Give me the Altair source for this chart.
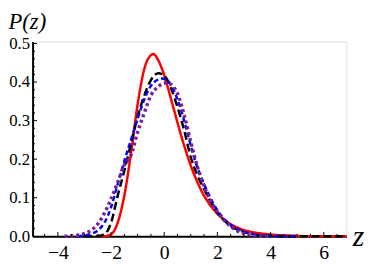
import altair as alt
import pandas as pd

# ---- data ----
red_z = [-2.5, -2.2, -2.0, -1.9, -1.75, -1.5, -1.25, -1.0, -0.75, -0.5, -0.4, -0.25, 0.0, 0.25, 0.5, 0.75,
         1.0, 1.25, 1.5, 2.0, 2.5, 3.0, 3.5, 4.0, 5.0, 6.0, 6.85]
red_p = [0.0, 0.0005, 0.005, 0.012, 0.035, 0.105, 0.215, 0.342, 0.434, 0.470, 0.473, 0.460, 0.418, 0.358,
         0.295, 0.235, 0.183, 0.140, 0.105, 0.058, 0.031, 0.016, 0.0085, 0.0045, 0.0012, 0.0003, 0.0001]

black_z = [-3.0, -2.5, -2.25, -2.0, -1.75, -1.5, -1.25, -1.0, -0.75, -0.5, -0.22, 0.0, 0.25, 0.5, 0.75,
           1.0, 1.25, 1.5, 1.75, 2.0, 2.5, 3.0, 3.5, 4.0, 5.0, 6.85]
black_p = [0.0, 0.001, 0.005, 0.035, 0.105, 0.17, 0.24, 0.31, 0.365, 0.405, 0.423, 0.417, 0.385, 0.335,
           0.275, 0.205, 0.158, 0.122, 0.09, 0.062, 0.027, 0.011, 0.004, 0.0015, 0.0, 0.0]

blue_z = [-3.25, -3.0, -2.75, -2.5, -2.25, -2.0, -1.75, -1.5, -1.25, -1.0, -0.75, -0.5, -0.25, -0.1, 0.1,
          0.35, 0.6, 0.85, 1.1, 1.35, 1.6, 1.85, 2.1, 2.5, 3.0, 3.5, 4.0, 5.0]
blue_p = [0.0, 0.002, 0.006, 0.015, 0.035, 0.075, 0.135, 0.195, 0.25, 0.305, 0.355, 0.39, 0.406, 0.409,
          0.405, 0.38, 0.335, 0.275, 0.21, 0.16, 0.12, 0.085, 0.058, 0.03, 0.012, 0.004, 0.001, 0.0]

purple_z = [-3.75, -3.5, -3.25, -3.0, -2.75, -2.5, -2.25, -2.0, -1.75, -1.5, -1.25, -1.0, -0.75, -0.5,
            -0.25, 0.0, 0.1, 0.25, 0.5, 0.75, 1.0, 1.25, 1.5, 1.75, 2.0, 2.25, 2.5, 2.75, 3.0, 3.5, 4.0]
purple_p = [0.0, 0.001, 0.003, 0.007, 0.016, 0.032, 0.06, 0.097, 0.14, 0.185, 0.21, 0.27, 0.32, 0.365,
            0.387, 0.397, 0.398, 0.394, 0.37, 0.315, 0.245, 0.18, 0.13, 0.092, 0.064, 0.042, 0.026, 0.014,
            0.007, 0.0015, 0.0]

x_major = [-4, -2, 0, 2, 4, 6]
x_minor = [-4.5, -3.5, -3, -2.5, -1.5, -1, -0.5, 0.5, 1, 1.5, 2.5, 3, 3.5, 4.5, 5, 5.5, 6.5]
y_major = [0.1, 0.2, 0.3, 0.4, 0.5]
y_minor = [0.02, 0.04, 0.06, 0.08, 0.12, 0.14, 0.16, 0.18, 0.22, 0.24, 0.26, 0.28,
           0.32, 0.34, 0.36, 0.38, 0.42, 0.44, 0.46, 0.48]
x_labels = [-4, -2, 0, 2, 4, 6]
y_labels = [0.0, 0.1, 0.2, 0.3, 0.4, 0.5]

W, H = 319, 198
FONT = "Liberation Serif"

xscale = alt.Scale(domain=[-4.95, 6.85], nice=False, zero=False)
yscale = alt.Scale(domain=[0, 0.505], nice=False, zero=False)

xaxis = alt.Axis(values=x_labels, grid=False, ticks=False, tickSize=0, domainColor="black",
                 domainWidth=2, labelFont=FONT, labelFontSize=20, labelColor="black",
                 labelPadding=7, labelFlush=False, title="z", titleFont=FONT, titleFontSize=30,
                 titleFontStyle="italic", titleFontWeight="normal", titleColor="black",
                 titleX=325, titleY=9, titleAlign="left", titleBaseline="alphabetic")
yaxis = alt.Axis(values=y_labels, format=".1f", grid=False, ticks=False, tickSize=0,
                 domainColor="black", domainWidth=2, labelFont=FONT, labelFontSize=17,
                 labelColor="black", labelPadding=3, labelFlush=False, title="P(z)",
                 titleFont=FONT, titleFontSize=23, titleFontStyle="italic",
                 titleFontWeight="normal", titleColor="black", titleAngle=0, titleX=-25,
                 titleY=-13, titleAlign="left", titleBaseline="alphabetic")


def X(f):
    return alt.X(f, type="quantitative", scale=xscale, axis=xaxis)


def Y(f):
    return alt.Y(f, type="quantitative", scale=yscale, axis=yaxis)


def curve(zs, ps, color, width, dash=None):
    df = pd.DataFrame({"z": zs, "p": ps})
    kw = dict(color=color, strokeWidth=width, interpolate="monotone", strokeCap="butt")
    if dash:
        kw["strokeDash"] = dash
    return alt.Chart(df).mark_line(**kw).encode(x=X("z"), y=Y("p"))


red = curve(red_z, red_p, "#ff0000", 2.5)
black = curve(black_z, black_p, "black", 2.5, [8, 4])
blue = curve(blue_z, blue_p, "#0000ff", 2.5, [5, 3])
purple = curve(purple_z, purple_p, "#7a1f9a", 3.5, [3, 3])


def xticks(vals, length):
    return alt.Chart(pd.DataFrame({"t": vals})).mark_rule(color="black", strokeWidth=1).encode(
        x=X("t"), y=alt.value(H), y2=alt.value(H - length))


def yticks(vals, length):
    return alt.Chart(pd.DataFrame({"t": vals})).mark_rule(color="black", strokeWidth=1).encode(
        y=Y("t"), x=alt.value(0), x2=alt.value(length))


chart = alt.layer(
    red, black, blue, purple,
    xticks(x_major, 4.5), xticks(x_minor, 2.5),
    yticks(y_major, 4.5), yticks(y_minor, 2.5),
).properties(
    width=W, height=H,
    padding={"left": 25, "top": 32, "right": 20, "bottom": 26},
    autosize=alt.AutoSizeParams(type="none"),
).configure_view(stroke=None).configure(background="white", font=FONT)

chart.save("out.html", embed_options={"renderer": "svg", "actions": False})
